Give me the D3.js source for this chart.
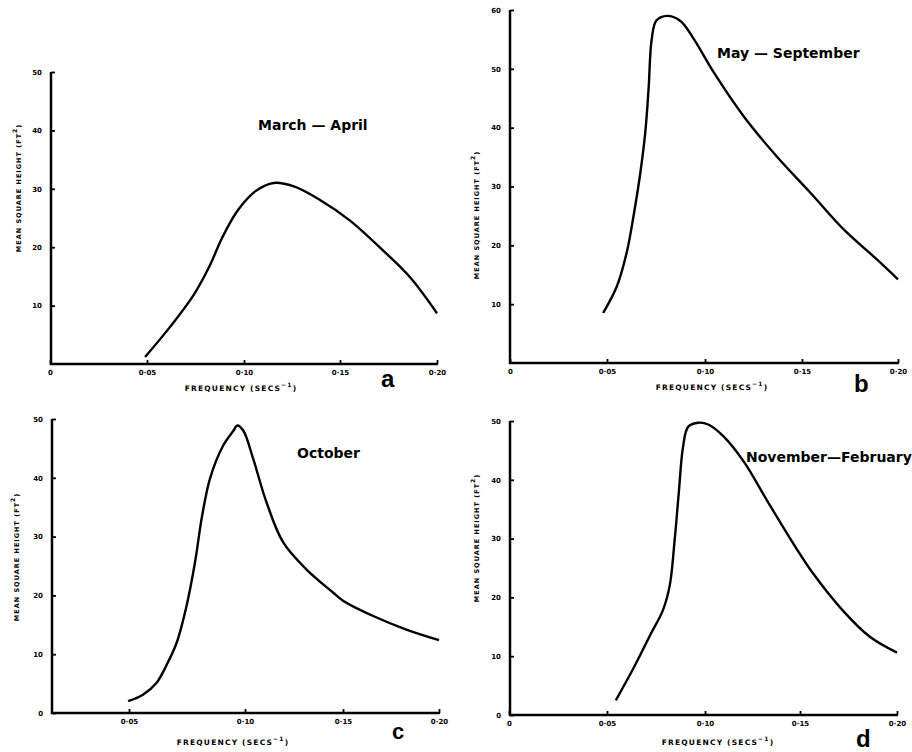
<!DOCTYPE html>
<html>
<head>
<meta charset="utf-8">
<script src="https://cdn.jsdelivr.net/npm/d3@7/dist/d3.min.js"></script>
<style>
  body { margin: 0; background: #fff; }
  text { fill: #000; }
</style>
</head>
<body>
<svg id="fig" width="912" height="752"></svg>
<script>
// values (frequency in secs^-1, mean square height in ft^2)

// (a) March - April
const freqA   = [0.049, 0.062, 0.074, 0.082, 0.089, 0.097, 0.106, 0.1155, 0.126, 0.140, 0.155, 0.172, 0.186, 0.200];
const heightA = [1.2,   6.4,   11.8,  16.6,  21.8,  26.4,  29.6,  31.0,   30.4,  28.0,  24.6,  19.5,  14.9,  8.7];

// (b) May - September
const freqB   = [0.048, 0.055, 0.060, 0.0635, 0.067, 0.0695, 0.0712, 0.0728, 0.0752, 0.0807, 0.0876, 0.0944, 0.1047, 0.120, 0.137, 0.1545, 0.1717, 0.189, 0.200];
const heightB = [8.5,   13.0,  18.7,  24.9,   32.3,  39.1,   46.5,   55.0,   58.2,   59.0,   58.1,   55.0,   49.3,   41.9,  35.1,  28.9,   22.7,   17.6,  14.2];

// (c) October
const freqC   = [0.0496, 0.056, 0.0618, 0.066, 0.0705, 0.0748, 0.0784, 0.0815, 0.0850, 0.0906, 0.095, 0.0967, 0.0993, 0.1042, 0.111, 0.1195, 0.1314, 0.1449, 0.150, 0.1657, 0.183, 0.200];
const heightC = [2.0,    3.1,   5.1,    8.0,   11.9,   18.2,   25.5,   33.5,   40.0,   45.5,   48.0,  48.9,   48.0,   43.2,   35.8,  29.0,   24.4,   20.5,   19.1,  16.5,   14.2,  12.4];

// (d) November - February
const freqD   = [0.0545, 0.0639, 0.0725, 0.0785, 0.082, 0.0845, 0.0866, 0.0888, 0.0914, 0.0966, 0.1017, 0.110, 0.1206, 0.1326, 0.1464, 0.1567, 0.172, 0.186, 0.200];
const heightD = [2.5,    8.2,    13.9,   17.8,   22.0,  29.7,   37.7,   45.6,   49.0,   49.7,   49.4,   47.3,  43.0,   36.5,   29.2,   24.1,   17.8,  13.3,  10.6];

const titles  = ["March — April", "May — September", "October", "November—February"];
const letters = ["a", "b", "c", "d"];

const xTicksFull  = [0, 0.05, 0.10, 0.15, 0.20];
const xTicksNoZero = [0.05, 0.10, 0.15, 0.20];
const yTicks50 = [10, 20, 30, 40, 50];
const yTicks60 = [10, 20, 30, 40, 50, 60];
const yTicks50z = [0, 10, 20, 30, 40, 50];

const fmtX = d => d === 0 ? "0" : d3.format(".2f")(d).replace(".", "·");

// panel geometry
const panels = [
  { f: freqA, h: heightA, axisX: 51, top: 72, bottom: 364, yMax: 50, yTicks: yTicks50,
    xDom: xTicksFull, xRange: [50, 147, 244, 340, 437], xTicks: xTicksFull,
    title: [258, 130], letter: [381, 387], letterSize: 24, xlab: [241, 391], ylab: [21, 188] },
  { f: freqB, h: heightB, axisX: 510, top: 10, bottom: 363, yMax: 60, yTicks: yTicks60,
    xDom: xTicksFull, xRange: [510, 607, 705, 802, 898], xTicks: xTicksFull,
    title: [717, 58], letter: [854, 392], letterSize: 24, xlab: [712, 390], ylab: [479, 215] },
  { f: freqC, h: heightC, axisX: 52, top: 419, bottom: 713, yMax: 50, yTicks: yTicks50z,
    xDom: xTicksNoZero, xRange: [129, 245, 343, 439], xTicks: xTicksNoZero,
    title: [297, 458], letter: [392, 739], letterSize: 22, xlab: [233, 745], ylab: [19, 557] },
  { f: freqD, h: heightD, axisX: 510, top: 421, bottom: 715, yMax: 50, yTicks: yTicks50z,
    xDom: xTicksFull, xRange: [509, 607, 705, 800, 897], xTicks: xTicksFull,
    title: [746, 462], letter: [856, 747], letterSize: 24, xlab: [718, 745], ylab: [479, 538] }
];

const svg = d3.select("#fig");
const tickFont = "DejaVu Sans, sans-serif";

panels.forEach((p, i) => {
  const x = d3.scaleLinear().domain(p.xDom).range(p.xRange);
  const y = d3.scaleLinear().domain([0, p.yMax]).range([p.bottom, p.top]);
  const right = p.xRange[p.xRange.length - 1];
  const g = svg.append("g");

  // axis lines
  g.append("line").attr("x1", p.axisX).attr("x2", p.axisX)
    .attr("y1", p.top).attr("y2", p.bottom + 1)
    .attr("stroke", "#000").attr("stroke-width", 2.5);
  g.append("line").attr("x1", p.axisX - 1).attr("x2", right + 1)
    .attr("y1", p.bottom).attr("y2", p.bottom)
    .attr("stroke", "#000").attr("stroke-width", 2.5);

  // y axis ticks (inward)
  const ya = g.append("g").attr("transform", `translate(${p.axisX},0)`)
    .call(d3.axisLeft(y).tickValues(p.yTicks).tickSize(-4).tickPadding(9).tickFormat(d3.format("d")));
  ya.select(".domain").remove();
  ya.selectAll("line").attr("stroke", "#000").attr("stroke-width", 1.8);
  ya.selectAll("text").attr("font-family", tickFont).attr("font-size", 7)
    .attr("font-weight", "bold").attr("fill", "#000");

  // x axis ticks (upward)
  const xa = g.append("g").attr("transform", `translate(0,${p.bottom})`)
    .call(d3.axisBottom(x).tickValues(p.xTicks).tickSize(-4).tickPadding(6).tickFormat(fmtX));
  xa.select(".domain").remove();
  xa.selectAll("line").attr("stroke", "#000").attr("stroke-width", 1.8);
  xa.selectAll("text").attr("font-family", tickFont).attr("font-size", 7)
    .attr("font-weight", "bold").attr("fill", "#000");

  // curve
  const pts = p.f.map((f, k) => [f, p.h[k]]);
  g.append("path")
    .attr("d", d3.line().x(d => x(d[0])).y(d => y(d[1])).curve(d3.curveCatmullRom.alpha(0.5))(pts))
    .attr("fill", "none").attr("stroke", "#000").attr("stroke-width", 2.4)
    .attr("stroke-linejoin", "round");

  // x axis title
  const xt = g.append("text").attr("x", p.xlab[0]).attr("y", p.xlab[1])
    .attr("text-anchor", "middle").attr("font-family", tickFont)
    .attr("font-size", 7.5).attr("font-weight", "bold").attr("letter-spacing", 1.2);
  xt.append("tspan").text("FREQUENCY  (SECS");
  xt.append("tspan").attr("dy", -4).attr("font-size", 6).text("−1");
  xt.append("tspan").attr("dy", 4).text(")");

  // y axis title
  const yt = g.append("text")
    .attr("transform", `translate(${p.ylab[0]},${p.ylab[1]}) rotate(-90)`)
    .attr("text-anchor", "middle").attr("font-family", tickFont)
    .attr("font-size", 6.5).attr("font-weight", "bold").attr("letter-spacing", 1);
  yt.append("tspan").text("MEAN SQUARE HEIGHT (FT");
  yt.append("tspan").attr("dy", -4).attr("font-size", 6).text("2");
  yt.append("tspan").attr("dy", 4).text(")");

  // panel title and letter
  g.append("text").attr("x", p.title[0]).attr("y", p.title[1])
    .attr("font-family", "DejaVu Sans, sans-serif").attr("font-size", 14)
    .attr("font-weight", "bold").text(titles[i]);
  g.append("text").attr("x", p.letter[0]).attr("y", p.letter[1])
    .attr("font-family", "Liberation Sans, sans-serif").attr("font-weight", "bold")
    .attr("font-size", p.letterSize).text(letters[i]);
});
</script>
</body>
</html>
